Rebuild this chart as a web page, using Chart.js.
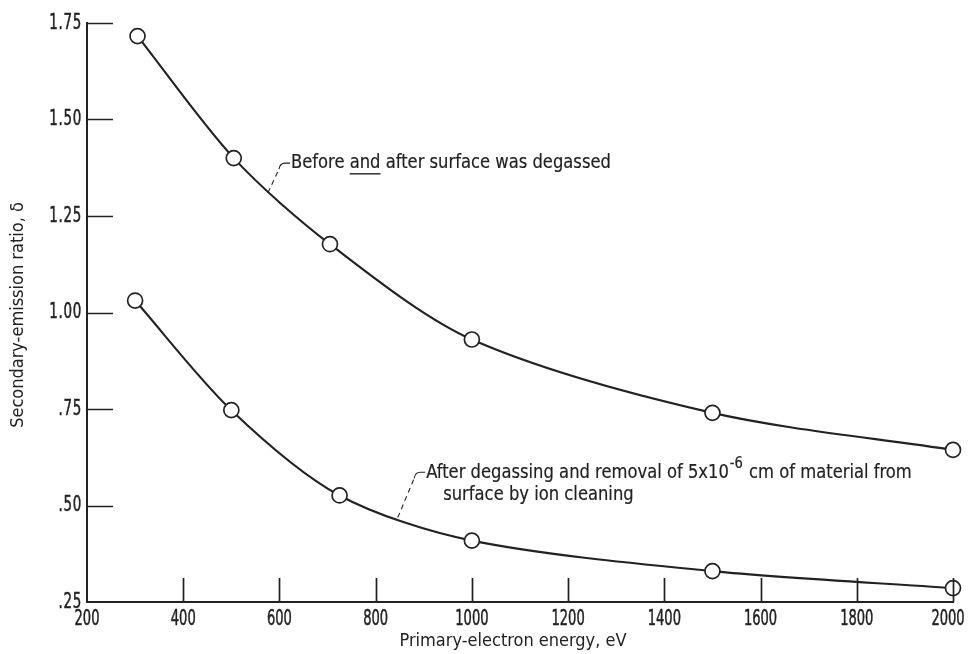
<!DOCTYPE html>
<html>
<head>
<meta charset="utf-8">
<script src="https://cdn.jsdelivr.net/npm/chart.js@4/dist/chart.umd.min.js"></script>
<style>
  body { margin: 0; background: #fff; }
  #wrap { width: 968px; height: 654px; }
</style>
</head>
<body>
<div id="wrap"><canvas id="chart"></canvas></div>
<script>
// ----------------------------------------------------------------------
//  secondary emission ratio vs primary electron energy
// ----------------------------------------------------------------------
const upperEnergy = [305, 505, 705, 1000, 1500, 2000]
const upperRatio  = [1.716, 1.40, 1.177, 0.93, 0.74, 0.644]
const lowerEnergy = [300, 500, 725, 1000, 1500, 2000]
const lowerRatio  = [1.031, 0.747, 0.526, 0.409, 0.330, 0.286]

const xTicks = [200, 400, 600, 800, 1000, 1200, 1400, 1600, 1800, 2000]
const yTicks = [0.25, 0.50, 0.75, 1.00, 1.25, 1.50, 1.75]

const xTitle = 'Primary-electron energy, eV'
const yTitle = 'Secondary-emission ratio, δ'

// ----------------------------------------------------------------------
const ink = '#222'
const face = '"DejaVu Sans Condensed", "DejaVu Sans", sans-serif'

const toPoints = (xs, ys) => xs.map((x, i) => ({ x: x, y: ys[i] }))

const yFormat = v => v >= 1 ? v.toFixed(2) : '.' + v.toFixed(2).split('.')[1]

const series = (label, xs, ys) => ({
    label: label,
    data: toPoints(xs, ys),
    showLine: true,
    borderColor: ink,
    borderWidth: 2.1,
    tension: 0.3,
    pointRadius: 7.5,
    pointBorderWidth: 1.7,
    pointBackgroundColor: '#fff',
    pointBorderColor: ink,
    clip: false
})

// squeezed text, like the narrow face of the original
function narrow (ctx, text, x, y, size, sx, align, bold) {
    ctx.save()
    ctx.font = size + 'px ' + face
    const w = ctx.measureText(text).width * sx
    let left = x
    if (align === 'right') left = x - w
    if (align === 'center') left = x - w / 2
    ctx.translate(left, y)
    ctx.scale(sx, 1)
    ctx.fillText(text, 0, 0)
    if (bold) {
        ctx.strokeStyle = ink
        ctx.lineWidth = bold
        ctx.strokeText(text, 0, 0)
    }
    ctx.restore()
    return w
}

// inner tick marks, tick labels, leader notes and axis titles
const inkPlugin = {
    id: 'ink',
    afterDatasetsDraw (chart) {
        const { ctx, chartArea: a, scales: { x, y } } = chart
        ctx.save()
        ctx.strokeStyle = ink
        ctx.lineWidth = 1.7
        ctx.beginPath()
        x.ticks.forEach(t => {
            if (t.value === xTicks[0]) return
            const px = Math.round(x.getPixelForValue(t.value)) + 0.5
            ctx.moveTo(px, a.bottom)
            ctx.lineTo(px, a.bottom - 24)
        })
        y.ticks.forEach(t => {
            if (t.value === yTicks[0]) return
            const py = Math.round(y.getPixelForValue(t.value)) + 0.5
            ctx.moveTo(a.left, py)
            ctx.lineTo(a.left + 26, py)
        })
        ctx.stroke()
        ctx.restore()
    },
    afterDraw (chart) {
        const { ctx, chartArea: a, scales: { x, y } } = chart
        const P = (vx, vy) => [x.getPixelForValue(vx), y.getPixelForValue(vy)]

        ctx.save()
        ctx.fillStyle = ink
        ctx.textBaseline = 'middle'

        // tick labels
        x.ticks.forEach(t => {
            const px = Math.min(x.getPixelForValue(t.value), chart.width - 20)
            narrow(ctx, String(t.value), px, a.bottom + 17, 22, 0.66, 'center', 0.5)
        })
        ctx.letterSpacing = '1px'
        y.ticks.forEach(t => {
            narrow(ctx, yFormat(t.value), a.left - 5, y.getPixelForValue(t.value), 22, 0.68, 'right', 0.5)
        })
        ctx.letterSpacing = '0px'

        const leader = (from, corner) => {
            ctx.save()
            ctx.strokeStyle = ink
            ctx.lineWidth = 1.1
            ctx.setLineDash([5, 4])
            ctx.beginPath()
            ctx.moveTo(from[0], from[1])
            ctx.lineTo(corner[0] + 1, corner[1] + 6)
            ctx.stroke()
            ctx.setLineDash([])
            ctx.beginPath()
            ctx.moveTo(corner[0] + 1, corner[1] + 6)
            ctx.quadraticCurveTo(corner[0] + 2, corner[1], corner[0] + 7, corner[1])
            ctx.lineTo(corner[0] + 12, corner[1])
            ctx.stroke()
            ctx.restore()
        }

        const size = 20, sx = 0.91, heavy = 0.2

        // upper note
        const u0 = P(576, 1.31), u1 = P(597, 1.387)
        leader(u0, u1)
        let tx = u1[0] + 13
        const ty = u1[1]
        const parts = ['Before ', 'and', ' after surface was degassed']
        parts.forEach((s, i) => {
            const w = narrow(ctx, s, tx, ty, size, sx, 'left', heavy)
            if (i === 1) ctx.fillRect(tx, ty + 10, w, 1.4)
            tx += w
        })

        // lower note
        const l0 = P(846, 0.469), l1 = P(878, 0.586)
        leader(l0, l1)
        tx = l1[0] + 13
        const ly = l1[1]
        tx += narrow(ctx, 'After degassing and removal of 5x10', tx, ly, size, sx, 'left', heavy)
        tx += narrow(ctx, '-6', tx + 1, ly - 8, 16, sx, 'left', heavy) + 2
        narrow(ctx, ' cm of material from', tx, ly, size, sx, 'left', heavy)
        narrow(ctx, 'surface by ion cleaning', l1[0] + 30, ly + 22, size, sx, 'left', heavy)

        // axis titles
        ctx.textAlign = 'center'
        ctx.font = '18px ' + face
        ctx.fillText(xTitle, 513, 641)
        ctx.translate(18, 315)
        ctx.rotate(-Math.PI / 2)
        ctx.fillText(yTitle, 0, 0)
        ctx.restore()
    }
}

// ----------------------------------------------------------------------
const config = {
    type: 'scatter',
    data: {
        datasets: [
            series('upper', upperEnergy, upperRatio),
            series('lower', lowerEnergy, lowerRatio)
        ]
    },
    options: {
        responsive: true,
        maintainAspectRatio: false,
        animation: false,
        layout: { padding: { top: 23, right: 15, left: 0, bottom: 0 } },
        plugins: {
            legend: { display: false },
            tooltip: { enabled: false }
        },
        scales: {
            x: {
                type: 'linear',
                min: xTicks[0],
                max: xTicks[xTicks.length - 1],
                afterBuildTicks: s => { s.ticks = xTicks.map(v => ({ value: v })) },
                afterFit: s => { s.height = 52; s.paddingLeft = 0; s.paddingRight = 0 },
                grid: { drawOnChartArea: false, drawTicks: false },
                border: { display: true, color: ink, width: 2 },
                ticks: { display: false }
            },
            y: {
                type: 'linear',
                min: yTicks[0],
                max: yTicks[yTicks.length - 1],
                afterBuildTicks: s => { s.ticks = yTicks.map(v => ({ value: v })) },
                afterFit: s => { s.width = 87; s.paddingTop = 0; s.paddingBottom = 0 },
                grid: { drawOnChartArea: false, drawTicks: false },
                border: { display: true, color: ink, width: 2 },
                ticks: { display: false }
            }
        }
    },
    plugins: [inkPlugin]
}

const chart = new Chart(document.getElementById('chart'), config)
</script>
</body>
</html>
